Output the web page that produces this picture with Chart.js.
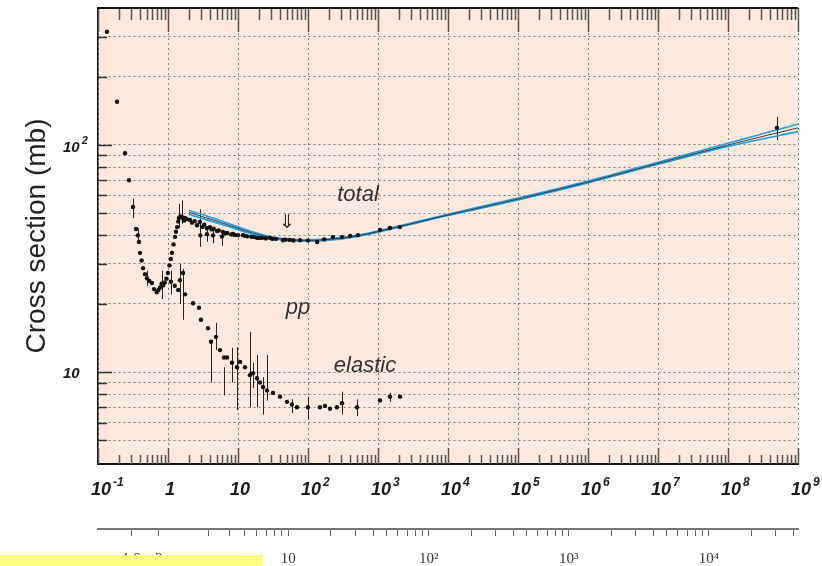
<!DOCTYPE html>
<html>
<head>
<meta charset="utf-8">
<script src="https://cdn.jsdelivr.net/npm/chart.js@4.4.1/dist/chart.umd.min.js"></script>
<style>
  body { margin: 0; background: #fff; }
  #wrap { position: relative; width: 822px; height: 566px; }
  #faixa { position: absolute; left: 0; top: 555px; width: 263px; height: 11px; background: #ffff80; }
</style>
</head>
<body>
<div id="wrap">
  <canvas id="grafico" width="822" height="566"></canvas>
  <div id="faixa"></div>
</div>
<script>
// Total cross section: beam momentum (GeV/c) and sigma (mb)
const totalMomentum = [
  0.134, 0.187, 0.243, 0.277, 0.316, 0.349, 0.37, 0.385, 0.398, 0.42,
  0.44, 0.47, 0.5, 0.54, 0.59, 0.63, 0.69, 0.73, 0.77, 0.81,
  0.85, 0.9, 0.95, 1.0, 1.05, 1.1, 1.14, 1.2, 1.26, 1.3,
  1.35, 1.4, 1.43, 1.5, 1.58, 1.65, 1.74, 1.85, 2.06, 2.4,
  2.85, 2.9, 3.3, 3.6, 3.97, 4.4, 4.5, 5.3, 5.9, 6.1,
  7.0, 8.5, 10, 11.8, 13.5, 15.5, 18.7, 22, 25, 28.8,
  35, 43.9, 55, 77, 100, 135, 170, 227, 306, 400,
  516, 1070, 1480, 2050, 5e8,
  1.7, 2.2, 2.6, 3.1, 3.6, 4.2, 5.0, 6.5, 8.0, 9.0,
  12.5, 17, 20, 31, 48, 62
];
const totalSigma = [
  315, 155, 92, 70, 53.3, 42.7, 40, 37.4, 33.5, 31,
  28.7, 27, 25.9, 25.2, 24.7, 23.2, 22.5, 23, 23.6, 24.5,
  24.1, 24.8, 25.8, 27.3, 29.5, 31.5, 33.5, 36.5, 39.4, 41.5,
  43.5, 46, 47.7, 48.5, 48.2, 47.5, 47.7, 47.2, 46.8, 46.2,
  45.8, 40, 44.6, 40.5, 43.5, 40, 42.8, 42, 39.5, 41.4,
  41, 40.6, 40.1, 40.1, 39.6, 39.4, 39.0, 39, 38.8, 39.0,
  38.6, 38.1, 38.2, 38.1, 38, 37.4, 38.4, 39.3, 39.3, 39.8,
  40.1, 42.3, 43.1, 43.5, 119,
  46.5, 45.5, 44.3, 43.6, 43.0, 42.5, 41.8, 40.9, 40.4, 40.2,
  39.8, 39.3, 39.0, 38.6, 38.3, 38.0
];
// error bars of the total points
const totalBarMomentum = [0.316, 0.37, 0.5, 0.81, 1.43, 1.58, 2.9, 3.6, 4.4, 5.9, 5e8];
const totalBarLow = [47.7, 37, 24, 21, 43, 45, 35.6, 37.5, 37, 36, 105];
const totalBarHigh = [58, 43, 28, 28, 55, 57, 52, 44, 43, 42, 133];

// Elastic cross section
const elasticMomentum = [
  1.1, 1.25, 1.4, 1.48, 1.64, 1.75, 2.28, 2.77, 2.96, 3.73,
  4.12, 4.85, 5.53, 6.31, 6.97, 8.2, 9.68, 10.7, 12.6, 14.8,
  16.4, 18.7, 20.6, 22.8, 26, 31.6, 39.8, 50.1, 59, 69.6,
  100, 148, 175, 206, 259, 306, 501, 1068, 1484, 2060
];
const elasticSigma = [
  25, 24, 23, 25.4, 27.3, 22, 20.1, 19.2, 17.0, 15.6,
  13.6, 14.3, 12.5, 11.6, 11.6, 11.0, 10.5, 11.1, 10.5, 9.7,
  9.9, 9.4, 9.0, 8.6, 8.3, 8.1, 7.8, 7.4, 7.2, 7.0,
  7.0, 7.0, 7.1, 6.9, 7.0, 7.3, 7.0, 7.5, 7.8, 7.8
];
const elasticBarMomentum = [1.1, 1.48, 1.64, 4.12, 4.85, 6.31, 8.2, 9.68, 14.8, 16.4, 18.7, 22.8, 26, 59, 100, 306, 501, 1484];
const elasticBarLow = [22, 20, 17, 9.0, 12.5, 7.9, 9, 6.8, 7.0, 8.5, 7.0, 6.5, 7.5, 6.6, 6.2, 6.5, 6.4, 7.4];
const elasticBarHigh = [28, 30, 28.5, 13.8, 16.5, 10.5, 12.8, 12.9, 15, 11, 11.9, 9.5, 11.9, 7.6, 7.8, 8.2, 7.6, 8.1];

// Fit band of the total cross section
const fitMomentum = [2, 3, 5, 10, 16, 30, 60, 100, 200, 500, 1e3, 1e4, 1e5, 1e6, 1e7, 1e8, 1e9];
const fitUpper = [51.5, 49.5, 47, 43.6, 41.5, 39.4, 38.4, 38.2, 38.6, 40, 41.9, 49.6, 58.4, 69.4, 84, 101.8, 123.5];
const fitCentral = [50.5, 48.5, 46.2, 43, 41, 39.1, 38.2, 38, 38.4, 39.8, 41.6, 49.2, 57.8, 68.7, 83, 100, 119];
const fitLower = [49.5, 47.6, 45.4, 42.4, 40.5, 38.8, 37.9, 37.7, 38.1, 39.5, 41.3, 48.9, 57.3, 68.1, 82.2, 98.6, 114.5];

// Tick labels: powers of ten on x and y, grid values on y, sqrt(s) ticks of the second axis
const xLabelPowers = [-1, 0, 1, 2, 3, 4, 5, 6, 7, 8, 9];
const yLabelPowers = [1, 2];
const yTickValues = [5, 6, 7, 8, 9, 10, 20, 30, 40, 50, 60, 70, 80, 90, 100, 200, 300];
const sqrtSTicks = [1.9, 2, 3, 4, 5, 6, 7, 8, 9, 10, 20, 30, 40, 50, 60, 70, 80, 90,
  100, 200, 300, 400, 500, 600, 700, 800, 900, 1000, 2000, 3000, 4000, 5000, 6000, 7000, 8000, 9000,
  10000, 20000, 30000, 40000];
const sqrtSLabels = { 1.9: '1.9', 2: '2', 10: '10', 100: '10²', 1000: '10³', 10000: '10⁴' };

function isDecade(v) {
  const l = Math.log10(v);
  return Math.abs(l - Math.round(l)) < 1e-6;
}
// lab momentum for a given sqrt(s), pp collisions
const mp = 0.938272;
function plabFromSqrtS(w) {
  const e = (w * w - 2 * mp * mp) / (2 * mp);
  return Math.sqrt(e * e - mp * mp);
}

const xTickValues = [];
for (let e = -1; e < 9; e++) {
  for (let m = 1; m <= 9; m++) xTickValues.push(m * Math.pow(10, e));
}
xTickValues.push(1e9);

const pontos = (xs, ys) => xs.map((v, i) => ({ x: v, y: ys[i] }));
const sans = '"Liberation Sans", Arial, Helvetica, sans-serif';

// "10" with a raised exponent
function potencia(ctx, e, left, baseline, size, expSize, rise) {
  ctx.font = 'italic bold ' + size + 'px ' + sans;
  ctx.textAlign = 'left';
  ctx.textBaseline = 'alphabetic';
  ctx.fillText('10', left, baseline);
  const w = ctx.measureText('10').width;
  ctx.font = 'italic bold ' + expSize + 'px ' + sans;
  ctx.fillText(String(e), left + w + 2, baseline - rise);
}

// Background of the plot area
const fundo = {
  id: 'fundo',
  beforeDraw(chart) {
    const { ctx, chartArea: a } = chart;
    ctx.save();
    ctx.fillStyle = '#fde9dd';
    ctx.fillRect(a.left, a.top, a.right - a.left, a.bottom - a.top);
    ctx.restore();
  }
};

// Vertical error bars
const barras = {
  id: 'barras',
  beforeDatasetsDraw(chart) {
    const { ctx, scales: { x, y } } = chart;
    ctx.save();
    ctx.strokeStyle = '#262626';
    ctx.lineWidth = 1;
    const desenha = (ps, lo, hi) => {
      ps.forEach((p, i) => {
        const px = Math.round(x.getPixelForValue(p)) + 0.5;
        ctx.beginPath();
        ctx.moveTo(px, y.getPixelForValue(lo[i]));
        ctx.lineTo(px, y.getPixelForValue(hi[i]));
        ctx.stroke();
      });
    };
    desenha(totalBarMomentum, totalBarLow, totalBarHigh);
    desenha(elasticBarMomentum, elasticBarLow, elasticBarHigh);
    ctx.restore();
  }
};

// Inner tick marks, frame, axis numbers and the text inside the plot
const moldura = {
  id: 'moldura',
  afterDraw(chart) {
    const { ctx, chartArea: a, scales: { x, y } } = chart;
    const linha = (x1, y1, x2, y2) => { ctx.beginPath(); ctx.moveTo(x1, y1); ctx.lineTo(x2, y2); ctx.stroke(); };
    ctx.save();
    ctx.strokeStyle = '#555';
    ctx.lineWidth = 1.5;
    x.ticks.forEach(t => {
      const px = Math.round(x.getPixelForValue(t.value)) + 0.5;
      const big = isDecade(t.value);
      linha(px, a.top, px, a.top + (big ? 24 : 12));
      linha(px, a.bottom, px, a.bottom - (big ? 16 : 9));
    });
    ctx.strokeStyle = '#333';
    y.ticks.forEach(t => {
      const py = Math.round(y.getPixelForValue(t.value)) + 0.5;
      linha(a.left, py, a.left + (isDecade(t.value) ? 14 : 9), py);
    });
    ctx.strokeStyle = '#111';
    ctx.lineWidth = 2;
    linha(a.left, a.top, a.right, a.top);

    // x axis numbers
    ctx.fillStyle = '#1a1a1a';
    xLabelPowers.forEach(e => {
      const px = x.getPixelForValue(Math.pow(10, e));
      if (e === 0 || e === 1) {
        ctx.font = 'italic bold 18px ' + sans;
        ctx.textAlign = 'center';
        ctx.textBaseline = 'alphabetic';
        ctx.fillText(e === 0 ? '1' : '10', px + 2, a.bottom + 31);
      } else {
        potencia(ctx, e, px - 7, a.bottom + 31, 18, 12, 9);
      }
    });
    // y axis numbers
    yLabelPowers.forEach(e => {
      const py = y.getPixelForValue(Math.pow(10, e));
      if (e === 1) {
        ctx.font = 'italic bold 15px ' + sans;
        ctx.textAlign = 'left';
        ctx.textBaseline = 'alphabetic';
        ctx.fillText('10', 63, py + 6);
      } else {
        potencia(ctx, e, 63, py + 7, 15, 11, 8);
      }
    });

    ctx.fillStyle = '#333';
    ctx.textAlign = 'center';
    ctx.textBaseline = 'middle';
    ctx.font = 'italic 22px ' + sans;
    ctx.fillText('total', x.getPixelForValue(518), y.getPixelForValue(60.2));
    ctx.fillText('pp', x.getPixelForValue(72), y.getPixelForValue(19.1));
    ctx.fillText('elastic', x.getPixelForValue(651), y.getPixelForValue(10.7));
    ctx.font = '19px "DejaVu Sans", sans-serif';
    ctx.fillText('⇓', x.getPixelForValue(50), y.getPixelForValue(45.3));
    ctx.restore();
  }
};

const ctx = document.getElementById('grafico').getContext('2d');
new Chart(ctx, {
  type: 'scatter',
  data: {
    datasets: [
      { label: 'total', data: pontos(totalMomentum, totalSigma), backgroundColor: '#111', borderWidth: 0, pointRadius: 2.2 },
      { label: 'elastic', data: pontos(elasticMomentum, elasticSigma), backgroundColor: '#111', borderWidth: 0, pointRadius: 2.2 },
      { label: 'fit', type: 'line', data: pontos(fitMomentum, fitCentral), borderColor: '#3a3a3a', borderWidth: 1, pointRadius: 0, cubicInterpolationMode: 'monotone' },
      { label: 'fit +', type: 'line', data: pontos(fitMomentum, fitUpper), borderColor: '#1e9fe3', borderWidth: 1.6, pointRadius: 0, cubicInterpolationMode: 'monotone' },
      { label: 'fit -', type: 'line', data: pontos(fitMomentum, fitLower), borderColor: '#1e9fe3', borderWidth: 1.6, pointRadius: 0, cubicInterpolationMode: 'monotone' }
    ]
  },
  options: {
    responsive: false,
    devicePixelRatio: 1,
    animation: false,
    layout: { padding: { left: 0, right: 24, top: 8, bottom: 0 } },
    plugins: { legend: { display: false }, tooltip: { enabled: false } },
    scales: {
      x: {
        type: 'logarithmic', position: 'bottom', min: 0.1, max: 1e9,
        afterBuildTicks: s => { s.ticks = xTickValues.map(v => ({ value: v })); },
        afterFit: s => { s.height = 65; s.paddingLeft = 0; s.paddingRight = 0; },
        grid: { color: c => (c.tick && isDecade(c.tick.value)) ? '#808080' : 'rgba(0,0,0,0)', lineWidth: 1, drawTicks: false },
        border: { color: '#111', width: 2, dash: [2, 3] },
        ticks: { display: false }
      },
      x2: {
        type: 'logarithmic', position: 'bottom', min: 0.1, max: 1e9,
        afterBuildTicks: s => { s.ticks = sqrtSTicks.map(w => ({ value: plabFromSqrtS(w) })); },
        afterFit: s => { s.height = 37; s.paddingLeft = 0; s.paddingRight = 0; },
        grid: { drawOnChartArea: false, drawTicks: true, tickLength: 7, color: '#666', lineWidth: 1 },
        border: { color: '#777', width: 2 },
        ticks: {
          autoSkip: false, maxRotation: 0, minRotation: 0, padding: 14,
          color: '#333', font: { family: '"Liberation Serif", "Times New Roman", serif', size: 15 },
          callback: (v, i) => sqrtSLabels[sqrtSTicks[i]] || ''
        }
      },
      y: {
        type: 'logarithmic', position: 'left', min: 3.94, max: 401,
        afterBuildTicks: s => { s.ticks = yTickValues.map(v => ({ value: v })); },
        afterFit: s => { s.width = 98; s.paddingTop = 0; s.paddingBottom = 0; },
        grid: { color: '#808080', lineWidth: 1, drawTicks: false },
        border: { color: '#111', width: 1.5, dash: [2, 3] },
        ticks: { display: false },
        title: {
          display: true, text: 'Cross section (mb)', color: '#222',
          font: { family: sans, size: 28 }, padding: { top: 20, bottom: 0 }
        }
      }
    }
  },
  plugins: [fundo, barras, moldura]
});
</script>
</body>
</html>
